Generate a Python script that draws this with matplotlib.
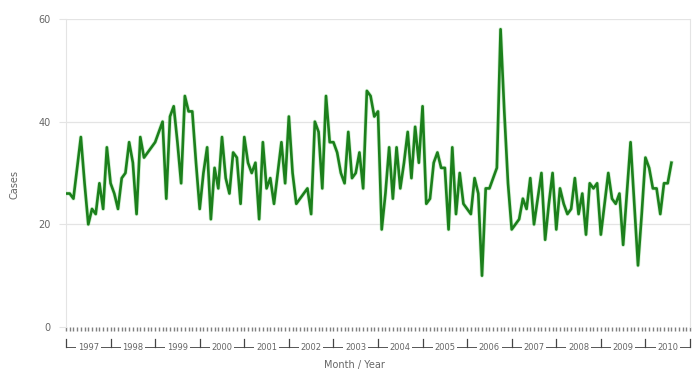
"""
Monthly case counts, 1997-2010
Output: out.png
"""

import matplotlib
matplotlib.use('Agg')
import matplotlib.pyplot as plt
import matplotlib.transforms as mtransforms
from matplotlib.ticker import MultipleLocator

LINE   = '#1c801c'
HALO   = '#7fd87f'
GRID   = '#e4e4e4'
TXT    = '#666666'

years = list(range(1997, 2011))

cases = [
    26, 26, 25, 31, 37, 28, 20, 23, 22, 28, 23, 35,
    28, 26, 23, 29, 30, 36, 32, 22, 37, 33, 34, 35,
    36, 38, 40, 25, 41, 43, 36, 28, 45, 42, 42, 32,
    23, 30, 35, 21, 31, 27, 37, 29, 26, 34, 33, 24,
    37, 32, 30, 32, 21, 36, 27, 29, 24, 30, 36, 28,
    41, 30, 24, 25, 26, 27, 22, 40, 38, 27, 45, 36,
    36, 34, 30, 28, 38, 29, 30, 34, 27, 46, 45, 41,
    42, 19, 26, 35, 25, 35, 27, 32, 38, 29, 39, 32,
    43, 24, 25, 32, 34, 31, 31, 19, 35, 22, 30, 24,
    23, 22, 29, 26, 10, 27, 27, 29, 31, 58, 42, 28,
    19, 20, 21, 25, 23, 29, 20, 25, 30, 17, 24, 30,
    19, 27, 24, 22, 23, 29, 22, 26, 18, 28, 27, 28,
    18, 24, 30, 25, 24, 26, 16, 26, 36, 24, 12, 22,
    33, 31, 27, 27, 22, 28, 28, 32,
]

y_ticks = [0, 20, 40, 60]

fig = plt.figure(figsize=(6.93, 3.69), dpi=100)
ax = fig.add_axes([66/693, 42/369, 624/693, 308/369])

n_months = len(years) * 12
months = list(range(len(cases)))

ax.plot(months, cases, color=HALO, lw=3.0, alpha=0.35,
        solid_joinstyle='round', zorder=3)
ax.plot(months, cases, color=LINE, lw=1.9,
        solid_joinstyle='round', zorder=4)

ax.set_xlim(0, n_months)
ax.set_ylim(0, 60)

# frame: only the light side lines remain
for side in ('top', 'bottom'):
    ax.spines[side].set_visible(False)
for side in ('left', 'right'):
    ax.spines[side].set_color(GRID)
    ax.spines[side].set_linewidth(0.8)

ax.set_yticks(y_ticks)
ax.set_yticklabels([str(v) for v in y_ticks])
ax.tick_params(axis='y', length=5, width=0.8, color=GRID, pad=6,
               labelsize=7, labelcolor=TXT)
for v in y_ticks[1:]:
    ax.axhline(v, color=GRID, lw=0.9, zorder=1)

# month ticks along the baseline
ax.xaxis.set_minor_locator(MultipleLocator(1))
ax.set_xticks([])
ax.tick_params(axis='x', which='minor', length=3, width=1.0,
               color='#808080', direction='out')

# year brackets below the month ticks
trans = mtransforms.blended_transform_factory(ax.transData, ax.transAxes)
y_line = -20/308
y_top = -12/308
ax.plot([0, n_months], [y_line, y_line], color='#555555', lw=0.7,
        transform=trans, clip_on=False)
for k in range(len(years) + 1):
    ax.plot([k*12, k*12], [y_top, y_line], color='#444444', lw=0.9,
            transform=trans, clip_on=False)
for k, yr in enumerate(years):
    ax.text(k*12 + 6, y_line, str(yr), ha='center', va='center',
            fontsize=6, color=TXT, transform=trans,
            bbox=dict(facecolor='white', edgecolor='none', pad=1.2))

ax.text(0.463, -38/308, 'Month / Year', ha='center', va='center',
        fontsize=7, color=TXT, transform=ax.transAxes)
fig.text(15/693, 1 - 185/369, 'Cases', rotation=90, ha='center',
         va='center', fontsize=7, color=TXT)

fig.savefig('out.png', dpi=100, facecolor='white')
plt.close(fig)
